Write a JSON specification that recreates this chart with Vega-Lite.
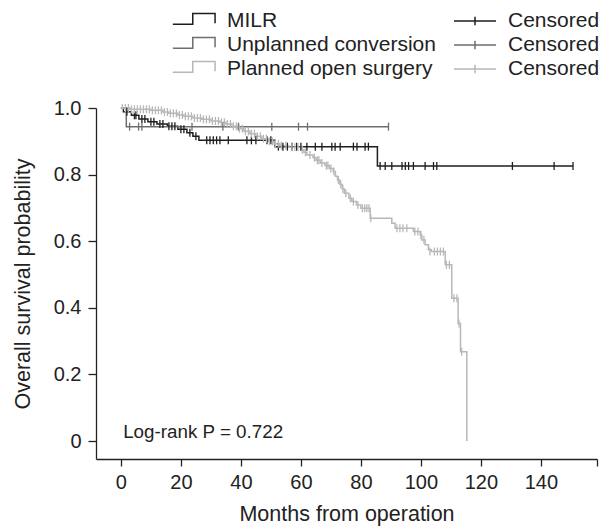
{
  "$schema": "https://vega.github.io/schema/vega-lite/v6.json",
  "width": 501,
  "height": 351,
  "autosize": {"type": "none"},
  "padding": {"left": 96, "top": 108, "right": 6, "bottom": 69},
  "background": "white",
  "config": {
    "font": "Liberation Sans",
    "view": {"stroke": null},
    "axis": {
      "domainColor": "#222222",
      "tickColor": "#222222",
      "labelColor": "#222222",
      "titleColor": "#222222",
      "labelFontSize": 20,
      "titleFontSize": 21.5,
      "titleFontWeight": "normal",
      "grid": false,
      "domainWidth": 1.3,
      "tickWidth": 1.3
    },
    "legend": {
      "labelFontSize": 21,
      "labelColor": "#222222",
      "labelLimit": 400,
      "padding": 0,
      "rowPadding": 0
    }
  },
  "layer": [
    {
      "data": {
        "values": [
          {"g": "MILR", "t": 0, "s": 1.0},
          {"g": "MILR", "t": 0.8, "s": 0.989},
          {"g": "MILR", "t": 3.5, "s": 0.978},
          {"g": "MILR", "t": 6, "s": 0.967},
          {"g": "MILR", "t": 9, "s": 0.959},
          {"g": "MILR", "t": 12, "s": 0.952},
          {"g": "MILR", "t": 15.5, "s": 0.945},
          {"g": "MILR", "t": 19, "s": 0.936},
          {"g": "MILR", "t": 22, "s": 0.926},
          {"g": "MILR", "t": 24, "s": 0.915},
          {"g": "MILR", "t": 26, "s": 0.903},
          {"g": "MILR", "t": 51.4, "s": 0.884},
          {"g": "MILR", "t": 85.5, "s": 0.826},
          {"g": "MILR", "t": 150.7, "s": 0.826},
          {"g": "Unplanned conversion", "t": 0, "s": 1.0},
          {"g": "Unplanned conversion", "t": 1.8, "s": 0.944},
          {"g": "Unplanned conversion", "t": 89.2, "s": 0.944},
          {"g": "Planned open surgery", "t": 0, "s": 1.0},
          {"g": "Planned open surgery", "t": 3, "s": 0.996},
          {"g": "Planned open surgery", "t": 10, "s": 0.993},
          {"g": "Planned open surgery", "t": 14, "s": 0.988},
          {"g": "Planned open surgery", "t": 16, "s": 0.984},
          {"g": "Planned open surgery", "t": 19, "s": 0.979},
          {"g": "Planned open surgery", "t": 21, "s": 0.975},
          {"g": "Planned open surgery", "t": 24, "s": 0.970},
          {"g": "Planned open surgery", "t": 27, "s": 0.966},
          {"g": "Planned open surgery", "t": 30, "s": 0.961},
          {"g": "Planned open surgery", "t": 33, "s": 0.957},
          {"g": "Planned open surgery", "t": 35, "s": 0.952},
          {"g": "Planned open surgery", "t": 37, "s": 0.945},
          {"g": "Planned open surgery", "t": 39, "s": 0.938},
          {"g": "Planned open surgery", "t": 41, "s": 0.930},
          {"g": "Planned open surgery", "t": 43, "s": 0.923},
          {"g": "Planned open surgery", "t": 45, "s": 0.915},
          {"g": "Planned open surgery", "t": 47, "s": 0.908},
          {"g": "Planned open surgery", "t": 49, "s": 0.900},
          {"g": "Planned open surgery", "t": 51, "s": 0.893},
          {"g": "Planned open surgery", "t": 53, "s": 0.887},
          {"g": "Planned open surgery", "t": 56, "s": 0.882},
          {"g": "Planned open surgery", "t": 60, "s": 0.875},
          {"g": "Planned open surgery", "t": 61, "s": 0.867},
          {"g": "Planned open surgery", "t": 62, "s": 0.859},
          {"g": "Planned open surgery", "t": 64, "s": 0.851},
          {"g": "Planned open surgery", "t": 65, "s": 0.843},
          {"g": "Planned open surgery", "t": 66.5, "s": 0.835},
          {"g": "Planned open surgery", "t": 68, "s": 0.827},
          {"g": "Planned open surgery", "t": 69.5, "s": 0.818},
          {"g": "Planned open surgery", "t": 70.8, "s": 0.809},
          {"g": "Planned open surgery", "t": 71.5, "s": 0.795},
          {"g": "Planned open surgery", "t": 72.2, "s": 0.784},
          {"g": "Planned open surgery", "t": 73, "s": 0.770},
          {"g": "Planned open surgery", "t": 73.8, "s": 0.757},
          {"g": "Planned open surgery", "t": 74.5, "s": 0.744},
          {"g": "Planned open surgery", "t": 76, "s": 0.729},
          {"g": "Planned open surgery", "t": 77, "s": 0.719},
          {"g": "Planned open surgery", "t": 78.5, "s": 0.709},
          {"g": "Planned open surgery", "t": 80, "s": 0.699},
          {"g": "Planned open surgery", "t": 83.1, "s": 0.669},
          {"g": "Planned open surgery", "t": 90.3, "s": 0.654},
          {"g": "Planned open surgery", "t": 91.4, "s": 0.639},
          {"g": "Planned open surgery", "t": 97.5, "s": 0.629},
          {"g": "Planned open surgery", "t": 99.8, "s": 0.619},
          {"g": "Planned open surgery", "t": 100.3, "s": 0.604},
          {"g": "Planned open surgery", "t": 101.4, "s": 0.589},
          {"g": "Planned open surgery", "t": 102.5, "s": 0.574},
          {"g": "Planned open surgery", "t": 103.5, "s": 0.569},
          {"g": "Planned open surgery", "t": 108.1, "s": 0.529},
          {"g": "Planned open surgery", "t": 110.3, "s": 0.429},
          {"g": "Planned open surgery", "t": 112.4, "s": 0.353},
          {"g": "Planned open surgery", "t": 113.2, "s": 0.268},
          {"g": "Planned open surgery", "t": 115.3, "s": 0.0}
        ]
      },
      "mark": {"type": "line", "interpolate": "step-after", "strokeWidth": 1.5},
      "encoding": {
        "x": {
          "field": "t", "type": "quantitative",
          "scale": {"domain": [-8.3, 158.7], "nice": false, "zero": false},
          "axis": {
            "title": "Months from operation",
            "values": [0, 20, 40, 60, 80, 100, 120, 140, 158.7],
            "labelExpr": "datum.value > 150 ? '' : datum.label",
            "tickSize": 7,
            "labelPadding": 6,
            "titlePadding": 11
          }
        },
        "y": {
          "field": "s", "type": "quantitative",
          "scale": {"domain": [-0.054, 1], "nice": false, "zero": false},
          "axis": {
            "title": "Overall survival probability",
            "values": [0, 0.2, 0.4, 0.6, 0.8, 1.0],
            "labelExpr": "datum.value == 0 ? '0' : format(datum.value, '.1f')",
            "tickSize": 8,
            "labelPadding": 7,
            "titlePadding": 19
          }
        },
        "color": {
          "field": "g", "type": "nominal",
          "scale": {
            "domain": ["MILR", "Unplanned conversion", "Planned open surgery"],
            "range": ["#1e1e1e", "#6e6e6e", "#b8b8b8"]
          },
          "legend": {
            "title": null,
            "orient": "none",
            "direction": "vertical",
            "legendX": 76,
            "legendY": -99,
            "symbolType": "M-1,0.15H-0.08V-0.35H0.95V0.1",
            "symbolSize": 1875,
            "symbolStrokeWidth": 1.5,
            "clipHeight": 24,
            "labelOffset": 10,
            "encode": {"symbols": {"update": {"fill": {"value": "transparent"}}}}
          }
        }
      }
    },
    {
      "data": {
        "values": [
          {"c": "MILR censored", "t": 2, "s": 0.989},
          {"c": "MILR censored", "t": 4.5, "s": 0.978},
          {"c": "MILR censored", "t": 5, "s": 0.978},
          {"c": "MILR censored", "t": 7, "s": 0.967},
          {"c": "MILR censored", "t": 8, "s": 0.967},
          {"c": "MILR censored", "t": 10, "s": 0.959},
          {"c": "MILR censored", "t": 11, "s": 0.959},
          {"c": "MILR censored", "t": 13, "s": 0.952},
          {"c": "MILR censored", "t": 14, "s": 0.952},
          {"c": "MILR censored", "t": 16, "s": 0.945},
          {"c": "MILR censored", "t": 17, "s": 0.945},
          {"c": "MILR censored", "t": 18, "s": 0.945},
          {"c": "MILR censored", "t": 20, "s": 0.936},
          {"c": "MILR censored", "t": 21, "s": 0.936},
          {"c": "MILR censored", "t": 23, "s": 0.926},
          {"c": "MILR censored", "t": 25, "s": 0.915},
          {"c": "MILR censored", "t": 28.6, "s": 0.903},
          {"c": "MILR censored", "t": 29.7, "s": 0.903},
          {"c": "MILR censored", "t": 30.8, "s": 0.903},
          {"c": "MILR censored", "t": 31.9, "s": 0.903},
          {"c": "MILR censored", "t": 33, "s": 0.903},
          {"c": "MILR censored", "t": 35.8, "s": 0.903},
          {"c": "MILR censored", "t": 42, "s": 0.903},
          {"c": "MILR censored", "t": 43.5, "s": 0.903},
          {"c": "MILR censored", "t": 45, "s": 0.903},
          {"c": "MILR censored", "t": 48.7, "s": 0.903},
          {"c": "MILR censored", "t": 50, "s": 0.903},
          {"c": "MILR censored", "t": 52.5, "s": 0.884},
          {"c": "MILR censored", "t": 54, "s": 0.884},
          {"c": "MILR censored", "t": 55.5, "s": 0.884},
          {"c": "MILR censored", "t": 57, "s": 0.884},
          {"c": "MILR censored", "t": 58.6, "s": 0.884},
          {"c": "MILR censored", "t": 60, "s": 0.884},
          {"c": "MILR censored", "t": 62, "s": 0.884},
          {"c": "MILR censored", "t": 64.8, "s": 0.884},
          {"c": "MILR censored", "t": 67, "s": 0.884},
          {"c": "MILR censored", "t": 70.3, "s": 0.884},
          {"c": "MILR censored", "t": 71.4, "s": 0.884},
          {"c": "MILR censored", "t": 73.1, "s": 0.884},
          {"c": "MILR censored", "t": 77.5, "s": 0.884},
          {"c": "MILR censored", "t": 78.7, "s": 0.884},
          {"c": "MILR censored", "t": 81.4, "s": 0.884},
          {"c": "MILR censored", "t": 82.5, "s": 0.884},
          {"c": "MILR censored", "t": 86.4, "s": 0.826},
          {"c": "MILR censored", "t": 88.1, "s": 0.826},
          {"c": "MILR censored", "t": 90.3, "s": 0.826},
          {"c": "MILR censored", "t": 93.7, "s": 0.826},
          {"c": "MILR censored", "t": 94.8, "s": 0.826},
          {"c": "MILR censored", "t": 95.9, "s": 0.826},
          {"c": "MILR censored", "t": 97.5, "s": 0.826},
          {"c": "MILR censored", "t": 101.4, "s": 0.826},
          {"c": "MILR censored", "t": 104.2, "s": 0.826},
          {"c": "MILR censored", "t": 105.3, "s": 0.826},
          {"c": "MILR censored", "t": 130.5, "s": 0.826},
          {"c": "MILR censored", "t": 144.4, "s": 0.826},
          {"c": "MILR censored", "t": 150.7, "s": 0.826},
          {"c": "Unplanned censored", "t": 2.9, "s": 0.944},
          {"c": "Unplanned censored", "t": 5.9, "s": 0.944},
          {"c": "Unplanned censored", "t": 7, "s": 0.944},
          {"c": "Unplanned censored", "t": 23.7, "s": 0.944},
          {"c": "Unplanned censored", "t": 34, "s": 0.944},
          {"c": "Unplanned censored", "t": 39.2, "s": 0.944},
          {"c": "Unplanned censored", "t": 50.3, "s": 0.944},
          {"c": "Unplanned censored", "t": 59.2, "s": 0.944},
          {"c": "Unplanned censored", "t": 62.2, "s": 0.944},
          {"c": "Unplanned censored", "t": 89.2, "s": 0.944},
          {"c": "Planned censored", "t": 0.5, "s": 1.0},
          {"c": "Planned censored", "t": 1.5, "s": 1.0},
          {"c": "Planned censored", "t": 2.5, "s": 1.0},
          {"c": "Planned censored", "t": 3.5, "s": 0.996},
          {"c": "Planned censored", "t": 4.5, "s": 0.996},
          {"c": "Planned censored", "t": 5.5, "s": 0.996},
          {"c": "Planned censored", "t": 6.5, "s": 0.996},
          {"c": "Planned censored", "t": 7.5, "s": 0.996},
          {"c": "Planned censored", "t": 8.5, "s": 0.996},
          {"c": "Planned censored", "t": 9.5, "s": 0.996},
          {"c": "Planned censored", "t": 10.5, "s": 0.993},
          {"c": "Planned censored", "t": 11.5, "s": 0.993},
          {"c": "Planned censored", "t": 12.5, "s": 0.993},
          {"c": "Planned censored", "t": 13.5, "s": 0.993},
          {"c": "Planned censored", "t": 14.5, "s": 0.988},
          {"c": "Planned censored", "t": 15.5, "s": 0.988},
          {"c": "Planned censored", "t": 16.5, "s": 0.984},
          {"c": "Planned censored", "t": 17.5, "s": 0.984},
          {"c": "Planned censored", "t": 18.5, "s": 0.984},
          {"c": "Planned censored", "t": 19.5, "s": 0.979},
          {"c": "Planned censored", "t": 20.5, "s": 0.979},
          {"c": "Planned censored", "t": 21.5, "s": 0.975},
          {"c": "Planned censored", "t": 22.5, "s": 0.975},
          {"c": "Planned censored", "t": 23.5, "s": 0.975},
          {"c": "Planned censored", "t": 24.5, "s": 0.970},
          {"c": "Planned censored", "t": 25.5, "s": 0.970},
          {"c": "Planned censored", "t": 26.5, "s": 0.970},
          {"c": "Planned censored", "t": 27.5, "s": 0.966},
          {"c": "Planned censored", "t": 28.5, "s": 0.966},
          {"c": "Planned censored", "t": 29.5, "s": 0.966},
          {"c": "Planned censored", "t": 30.5, "s": 0.961},
          {"c": "Planned censored", "t": 31.5, "s": 0.961},
          {"c": "Planned censored", "t": 32.5, "s": 0.961},
          {"c": "Planned censored", "t": 33.5, "s": 0.957},
          {"c": "Planned censored", "t": 34.5, "s": 0.957},
          {"c": "Planned censored", "t": 35.5, "s": 0.952},
          {"c": "Planned censored", "t": 36.5, "s": 0.952},
          {"c": "Planned censored", "t": 37.5, "s": 0.945},
          {"c": "Planned censored", "t": 38.5, "s": 0.945},
          {"c": "Planned censored", "t": 39.5, "s": 0.938},
          {"c": "Planned censored", "t": 40.5, "s": 0.938},
          {"c": "Planned censored", "t": 41.5, "s": 0.930},
          {"c": "Planned censored", "t": 42.5, "s": 0.930},
          {"c": "Planned censored", "t": 43.5, "s": 0.923},
          {"c": "Planned censored", "t": 44.5, "s": 0.923},
          {"c": "Planned censored", "t": 45.5, "s": 0.915},
          {"c": "Planned censored", "t": 46.5, "s": 0.915},
          {"c": "Planned censored", "t": 47.5, "s": 0.908},
          {"c": "Planned censored", "t": 48.5, "s": 0.908},
          {"c": "Planned censored", "t": 49.5, "s": 0.900},
          {"c": "Planned censored", "t": 50.5, "s": 0.900},
          {"c": "Planned censored", "t": 51.5, "s": 0.893},
          {"c": "Planned censored", "t": 52.5, "s": 0.893},
          {"c": "Planned censored", "t": 53.5, "s": 0.887},
          {"c": "Planned censored", "t": 55, "s": 0.887},
          {"c": "Planned censored", "t": 57, "s": 0.882},
          {"c": "Planned censored", "t": 58, "s": 0.882},
          {"c": "Planned censored", "t": 59, "s": 0.882},
          {"c": "Planned censored", "t": 60.5, "s": 0.875},
          {"c": "Planned censored", "t": 61.5, "s": 0.867},
          {"c": "Planned censored", "t": 63, "s": 0.859},
          {"c": "Planned censored", "t": 64.5, "s": 0.851},
          {"c": "Planned censored", "t": 65.5, "s": 0.843},
          {"c": "Planned censored", "t": 66, "s": 0.843},
          {"c": "Planned censored", "t": 67, "s": 0.835},
          {"c": "Planned censored", "t": 68.5, "s": 0.827},
          {"c": "Planned censored", "t": 69, "s": 0.827},
          {"c": "Planned censored", "t": 70, "s": 0.818},
          {"c": "Planned censored", "t": 71, "s": 0.809},
          {"c": "Planned censored", "t": 72.5, "s": 0.784},
          {"c": "Planned censored", "t": 73.3, "s": 0.770},
          {"c": "Planned censored", "t": 74, "s": 0.757},
          {"c": "Planned censored", "t": 75, "s": 0.744},
          {"c": "Planned censored", "t": 76.5, "s": 0.729},
          {"c": "Planned censored", "t": 77.5, "s": 0.719},
          {"c": "Planned censored", "t": 79, "s": 0.709},
          {"c": "Planned censored", "t": 80.5, "s": 0.699},
          {"c": "Planned censored", "t": 81.3, "s": 0.699},
          {"c": "Planned censored", "t": 82, "s": 0.699},
          {"c": "Planned censored", "t": 82.7, "s": 0.699},
          {"c": "Planned censored", "t": 83.3, "s": 0.669},
          {"c": "Planned censored", "t": 92, "s": 0.639},
          {"c": "Planned censored", "t": 93, "s": 0.639},
          {"c": "Planned censored", "t": 94, "s": 0.639},
          {"c": "Planned censored", "t": 95.3, "s": 0.639},
          {"c": "Planned censored", "t": 98, "s": 0.629},
          {"c": "Planned censored", "t": 99, "s": 0.629},
          {"c": "Planned censored", "t": 100, "s": 0.619},
          {"c": "Planned censored", "t": 101, "s": 0.604},
          {"c": "Planned censored", "t": 103, "s": 0.569},
          {"c": "Planned censored", "t": 104.5, "s": 0.569},
          {"c": "Planned censored", "t": 105.5, "s": 0.569},
          {"c": "Planned censored", "t": 106.5, "s": 0.569},
          {"c": "Planned censored", "t": 107.5, "s": 0.569},
          {"c": "Planned censored", "t": 108.5, "s": 0.529},
          {"c": "Planned censored", "t": 109.5, "s": 0.529},
          {"c": "Planned censored", "t": 111, "s": 0.429},
          {"c": "Planned censored", "t": 112, "s": 0.429},
          {"c": "Planned censored", "t": 112.7, "s": 0.353},
          {"c": "Planned censored", "t": 113.6, "s": 0.268}
        ]
      },
      "mark": {"type": "point", "shape": "M0,-1V1", "size": 64, "strokeWidth": 1.3, "filled": false, "opacity": 1},
      "encoding": {
        "x": {"field": "t", "type": "quantitative"},
        "y": {"field": "s", "type": "quantitative"},
        "stroke": {
          "field": "c", "type": "nominal",
          "scale": {
            "domain": ["MILR censored", "Unplanned censored", "Planned censored"],
            "range": ["#1e1e1e", "#6e6e6e", "#b8b8b8"]
          },
          "legend": {
            "title": null,
            "orient": "none",
            "direction": "vertical",
            "legendX": 357,
            "legendY": -99,
            "labelExpr": "'Censored'",
            "symbolType": "M-1,0H1M0,-0.2V0.2",
            "symbolSize": 1764,
            "symbolStrokeWidth": 1.5,
            "clipHeight": 24,
            "labelOffset": 11,
            "encode": {"symbols": {"update": {"fill": {"value": "transparent"}}}}
          }
        }
      }
    },
    {
      "data": {"values": [{"t": 0.75, "s": 0.009, "label": "Log-rank P = 0.722"}]},
      "mark": {"type": "text", "align": "left", "baseline": "alphabetic", "fontSize": 18.8, "color": "#222222"},
      "encoding": {
        "x": {"field": "t", "type": "quantitative"},
        "y": {"field": "s", "type": "quantitative"},
        "text": {"field": "label"}
      }
    }
  ]
}
